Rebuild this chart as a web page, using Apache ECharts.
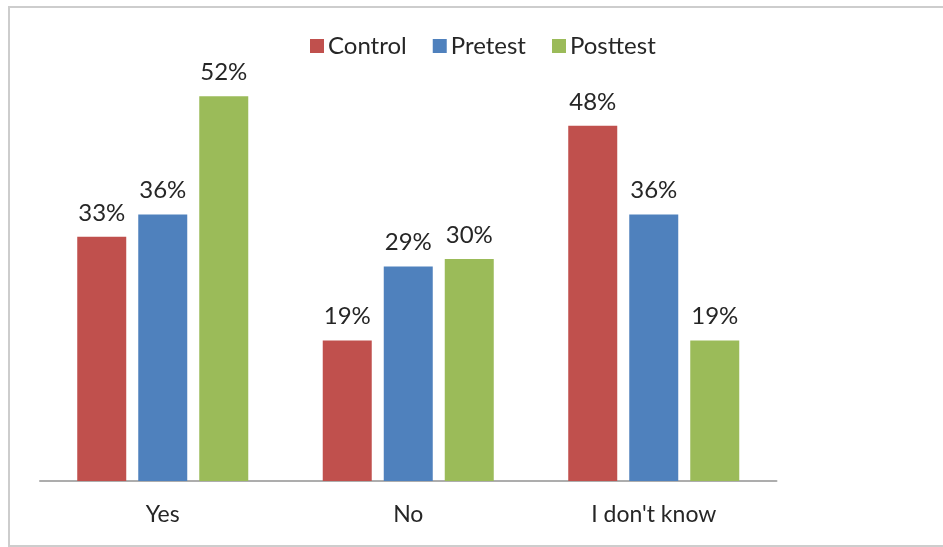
<!DOCTYPE html>
<html>
<head>
<meta charset="utf-8">
<title>Survey responses</title>
<script src="https://cdn.jsdelivr.net/npm/echarts@6/dist/echarts.min.js"></script>
<style>
  html, body { margin: 0; padding: 0; background: #ffffff; }
  #chart { width: 943px; height: 547px; }
</style>
</head>
<body>
<div id="chart"></div>
<script>
// Answer categories along the x axis
const categories = ['Yes', 'No', "I don't know"];

// Percentage of respondents per group
const controlValues = [33, 19, 48];
const pretestValues = [36, 29, 36];
const posttestValues = [52, 30, 19];

const seriesNames = ['Control', 'Pretest', 'Posttest'];
const seriesColors = ['#C0504D', '#4F81BD', '#9BBB59'];
const seriesValues = [controlValues, pretestValues, posttestValues];

const FONT = 'Lato, "Open Sans", sans-serif';

const chart = echarts.init(document.getElementById('chart'), null, { renderer: 'canvas' });

const series = seriesNames.map((name, i) => ({
  name: name,
  type: 'bar',
  data: seriesValues[i],
  barWidth: 49,
  barGap: '24.5%',
  itemStyle: { color: seriesColors[i] },
  label: {
    show: true,
    position: 'top',
    distance: 12,
    formatter: '{c}%',
    color: '#262626',
    fontFamily: FONT,
    fontSize: 24
  },
  emphasis: { disabled: true },
  animation: false
}));

chart.setOption({
  backgroundColor: '#ffffff',
  animation: false,
  graphic: [{
    type: 'rect',
    shape: { x: 9, y: 7, width: 960, height: 539 },
    style: { fill: 'none', stroke: '#CDCDCD', lineWidth: 2 },
    silent: true,
    z: -1
  }],
  legend: {
    data: seriesNames,
    top: 29,
    left: 305,
    itemWidth: 14,
    itemHeight: 14,
    itemGap: 26,
    icon: 'rect',
    textStyle: {
      color: '#262626',
      fontFamily: FONT,
      fontSize: 24,
      padding: [0, 0, 0, -1]
    },
    selectedMode: false
  },
  grid: {
    left: 40,
    right: 166.5,
    top: 37,
    bottom: 66,
    containLabel: false
  },
  xAxis: {
    type: 'category',
    data: categories,
    axisLine: { show: true, lineStyle: { color: '#ADADAD', width: 2 } },
    axisTick: { show: false },
    axisLabel: {
      color: '#262626',
      fontFamily: FONT,
      fontSize: 23,
      margin: 22
    },
    splitLine: { show: false }
  },
  yAxis: {
    type: 'value',
    min: 0,
    max: 60,
    show: false,
    splitLine: { show: false }
  },
  series: series
});
</script>
</body>
</html>
